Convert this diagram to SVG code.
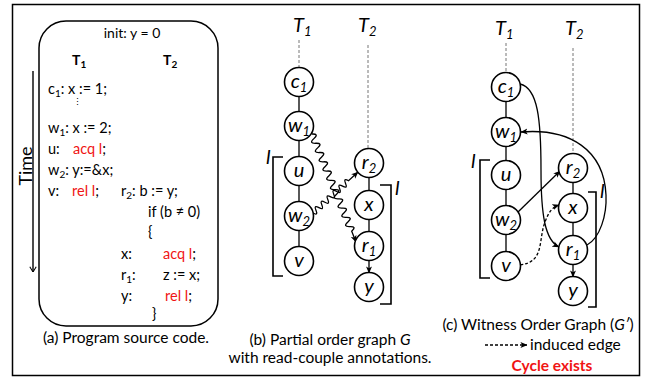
<svg xmlns="http://www.w3.org/2000/svg" width="657" height="378" viewBox="0 0 657 378">
<defs>
<style>
text{font-family:Lato,"Open Sans","Liberation Sans",sans-serif;fill:#000}
.code{font-size:14.5px}
.red{fill:#f01414}
.cap{font-size:15.5px}
.hd{font-size:14px;font-weight:bold}
.nl{font-size:20px;font-style:italic}
.tl{font-size:20px;font-style:italic}
.node circle{fill:#fff;stroke:#000;stroke-width:1.6}
.ea{fill:none;stroke:#000;stroke-width:1.3;marker-end:url(#ah)}
.tdash{fill:none;stroke:#777;stroke-width:1;stroke-dasharray:3 2}
.br{fill:none;stroke:#000;stroke-width:1.6}
</style>
<marker id="ah" viewBox="0 0 8 8" refX="7.5" refY="4" markerWidth="7" markerHeight="7" orient="auto" markerUnits="userSpaceOnUse"><path d="M0,0.6 L8,4 L0,7.4 L2,4 z" fill="#000"/></marker>
<marker id="ta" viewBox="0 0 10 10" refX="5" refY="9.5" markerWidth="8" markerHeight="8" orient="0" markerUnits="userSpaceOnUse"><path d="M1,3 L5,9.5 L9,3" fill="none" stroke="#000" stroke-width="1.3"/></marker>
</defs>
<rect x="12.5" y="4.5" width="627" height="371" fill="#fff" stroke="#000" stroke-width="1.5"/>

<!-- Panel (a) -->
<g id="panel-a">
<rect x="39" y="21" width="179" height="305" rx="27" ry="27" fill="none" stroke="#000" stroke-width="1.5"/>
<text x="132" y="38" font-size="14" text-anchor="middle">init: y = 0</text>
<text x="72" y="65" class="hd">T<tspan font-size="10" dy="3">1</tspan></text>
<text x="163" y="65" class="hd">T<tspan font-size="10" dy="3">2</tspan></text>
<text x="48" y="94" class="code">c<tspan font-size="10" dy="3">1</tspan><tspan dy="-3">: x := 1;</tspan></text>
<text x="77" y="105" font-size="9" text-anchor="middle">⋮</text>
<text x="48" y="133" class="code">w<tspan font-size="10" dy="3">1</tspan><tspan dy="-3">: x := 2;</tspan></text>
<text x="48" y="154" class="code">u:</text><text x="73" y="154" class="code"><tspan class="red">acq l</tspan>;</text>
<text x="48" y="175" class="code">w<tspan font-size="10" dy="3">2</tspan><tspan dy="-3">: y:=&amp;x;</tspan></text>
<text x="48" y="196" class="code">v:</text><text x="72" y="196" class="code"><tspan class="red">rel l</tspan>;</text>
<text x="121" y="196" class="code">r<tspan font-size="10" dy="3">2</tspan><tspan dy="-3">:  b := y;</tspan></text>
<text x="148" y="217" class="code">if (b ≠ 0)</text>
<text x="148" y="237" class="code">{</text>
<text x="121" y="259" class="code">x:</text><text x="163" y="259" class="code"><tspan class="red">acq l</tspan>;</text>
<text x="121" y="280" class="code">r<tspan font-size="10" dy="3">1</tspan><tspan dy="-3">:</tspan></text><text x="163" y="280" class="code">z := x;</text>
<text x="121" y="301" class="code">y:</text><text x="165" y="301" class="code"><tspan class="red">rel l</tspan>;</text>
<text x="152" y="319" class="code">}</text>
<text x="126" y="343" class="cap" text-anchor="middle">(a) Program source code.</text>
<line x1="33" y1="71" x2="33" y2="272" stroke="#000" stroke-width="1.4" marker-end="url(#ta)"/>
<text transform="translate(32,166) rotate(-90)" font-size="18" text-anchor="middle">Time</text>
</g>

<!-- Panel (b) -->
<g id="panel-b-labels">
<text x="293" y="32" class="tl">T<tspan font-size="13" dy="4">1</tspan></text>
<text x="358" y="32" class="tl">T<tspan font-size="13" dy="4">2</tspan></text>
<path class="tdash" d="M299 40 V68 M368 45 V149"/>
<path class="br" d="M283 157 H273 V276 H283 M380 185 H391 V304 H380"/>
<text x="266" y="164" class="nl">l</text>
<text x="395" y="195" class="nl">l</text>
<text x="330" y="345" class="cap" text-anchor="middle">(b) Partial order graph <tspan font-style="italic">G</tspan></text>
<text x="330" y="363" class="cap" text-anchor="middle">with read-couple annotations.</text>
</g>
<g id="edges-b">
<path class="ea" d="M299 96 V112 M299 140 V157 M299 185 V202 M299 230 V247 M369 177 V191 M369 219 V232 M369 260 V273"/>
<path class="ea" d="M312 134 q7.4 -0.3 1.89 4.63 t1.89 4.63 t1.89 4.63 t1.89 4.63 t1.89 4.63 t1.89 4.63 t1.89 4.63 t1.89 4.63 t1.89 4.63 t1.89 4.63 t1.89 4.63 t1.89 4.63 t1.89 4.63 t1.89 4.63 t1.89 4.63 t1.89 4.63 t1.89 4.63 t1.89 4.63 t1.89 4.63 t1.89 4.63 t1.89 4.63 L356 242"/>
<path class="ea" d="M313 213 q5.5 3.1 2.96 -2.69 t2.96 -2.69 t2.96 -2.69 t2.96 -2.69 t2.96 -2.69 t2.96 -2.69 t2.96 -2.69 t2.96 -2.69 t2.96 -2.69 t2.96 -2.69 t2.96 -2.69 t2.96 -2.69 L358 172"/>
</g>
<g id="b-c1" class="node"><circle cx="299" cy="82" r="14.5"/><text x="299" y="88" class="nl" text-anchor="middle">c<tspan font-size="13" dy="4">1</tspan></text></g>
<g id="b-w1" class="node"><circle cx="299" cy="126" r="14.5"/><text x="299" y="132" class="nl" text-anchor="middle">w<tspan font-size="13" dy="4">1</tspan></text></g>
<g id="b-u" class="node"><circle cx="299" cy="171" r="14.5"/><text x="299" y="177" class="nl" text-anchor="middle">u</text></g>
<g id="b-w2" class="node"><circle cx="299" cy="216" r="14.5"/><text x="299" y="222" class="nl" text-anchor="middle">w<tspan font-size="13" dy="4">2</tspan></text></g>
<g id="b-v" class="node"><circle cx="299" cy="261" r="14.5"/><text x="299" y="267" class="nl" text-anchor="middle">v</text></g>
<g id="b-r2" class="node"><circle cx="369" cy="163" r="14.5"/><text x="369" y="169" class="nl" text-anchor="middle">r<tspan font-size="13" dy="4">2</tspan></text></g>
<g id="b-x" class="node"><circle cx="369" cy="205" r="14.5"/><text x="369" y="211" class="nl" text-anchor="middle">x</text></g>
<g id="b-r1" class="node"><circle cx="369" cy="246" r="14.5"/><text x="369" y="252" class="nl" text-anchor="middle">r<tspan font-size="13" dy="4">1</tspan></text></g>
<g id="b-y" class="node"><circle cx="369" cy="287" r="14.5"/><text x="369" y="293" class="nl" text-anchor="middle">y</text></g>

<!-- Panel (c) -->
<g id="panel-c-labels">
<text x="495" y="35" class="tl">T<tspan font-size="13" dy="4">1</tspan></text>
<text x="565" y="35" class="tl">T<tspan font-size="13" dy="4">2</tspan></text>
<path class="tdash" d="M506 43 V72 M573 48 V153"/>
<path class="br" d="M490 160 H480 V278 H490 M588 192 H596 V307 H588"/>
<text x="471" y="168" class="nl">l</text>
<text x="600" y="198" class="nl">l</text>
<text x="538" y="330" class="cap" text-anchor="middle">(c) Witness Order Graph (<tspan font-style="italic">G′</tspan>)</text>
<path class="ea" d="M485 345 H527" stroke-dasharray="3 2"/>
<text x="530" y="350" class="cap">induced edge</text>
<text x="552" y="371" class="cap red" font-weight="bold" text-anchor="middle">Cycle exists</text>
</g>
<g id="edges-c">
<path class="ea" d="M506 101 V118 M506 146 V161 M506 189 V206 M506 234 V252 M573 182 V194 M573 222 V236 M573 264 V277"/>
<path class="ea" d="M520 84 C538 88 541 120 541 170 C541 215 545 240 559 247"/>
<path class="ea" d="M587 245 C600 238 607 215 606 195 C604 150 570 128 521 132"/>
<path class="ea" d="M518 212 L560 171"/>
<path class="ea" stroke-dasharray="3 2" d="M520 265 C545 262 538 240 545 222 C549 211 553 207 559 205"/>
</g>
<g id="c-c1" class="node"><circle cx="506" cy="87" r="14.5"/><text x="506" y="93" class="nl" text-anchor="middle">c<tspan font-size="13" dy="4">1</tspan></text></g>
<g id="c-w1" class="node"><circle cx="506" cy="132" r="14.5"/><text x="506" y="138" class="nl" text-anchor="middle">w<tspan font-size="13" dy="4">1</tspan></text></g>
<g id="c-u" class="node"><circle cx="506" cy="175" r="14.5"/><text x="506" y="181" class="nl" text-anchor="middle">u</text></g>
<g id="c-w2" class="node"><circle cx="506" cy="220" r="14.5"/><text x="506" y="226" class="nl" text-anchor="middle">w<tspan font-size="13" dy="4">2</tspan></text></g>
<g id="c-v" class="node"><circle cx="506" cy="266" r="14.5"/><text x="506" y="272" class="nl" text-anchor="middle">v</text></g>
<g id="c-r2" class="node"><circle cx="573" cy="168" r="14.5"/><text x="573" y="174" class="nl" text-anchor="middle">r<tspan font-size="13" dy="4">2</tspan></text></g>
<g id="c-x" class="node"><circle cx="573" cy="208" r="14.5"/><text x="573" y="214" class="nl" text-anchor="middle">x</text></g>
<g id="c-r1" class="node"><circle cx="573" cy="250" r="14.5"/><text x="573" y="256" class="nl" text-anchor="middle">r<tspan font-size="13" dy="4">1</tspan></text></g>
<g id="c-y" class="node"><circle cx="573" cy="291" r="14.5"/><text x="573" y="297" class="nl" text-anchor="middle">y</text></g>
</svg>
